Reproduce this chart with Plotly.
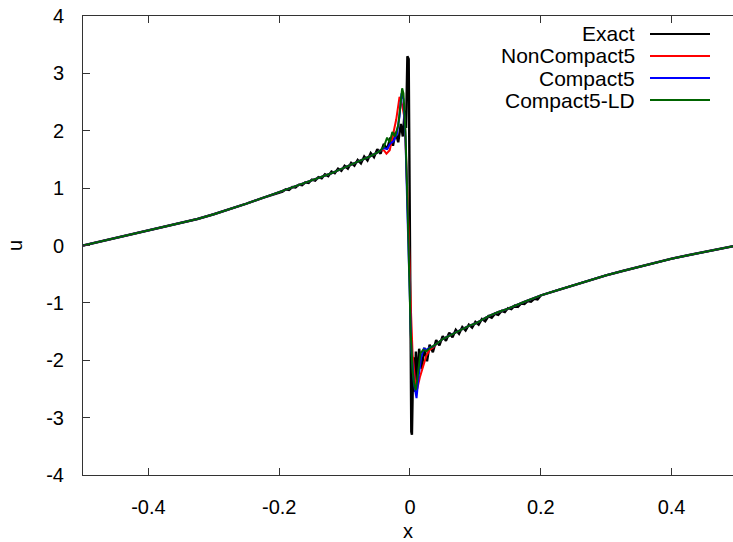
import plotly.graph_objects as go

# ---- data -------------------------------------------------------------
# smooth outer branches shared by every curve
x_outer_left = [-0.500, -0.475, -0.450, -0.425, -0.400, -0.375, -0.350, -0.325,
                -0.300, -0.275, -0.250, -0.225, -0.200]
u_outer_left = [0.000, 0.065, 0.130, 0.195, 0.260, 0.322, 0.387, 0.462,
                0.545, 0.635, 0.730, 0.830, 0.930]
x_outer_right = [0.200, 0.225, 0.250, 0.275, 0.300, 0.325, 0.350, 0.375,
                 0.400, 0.425, 0.450, 0.475, 0.500]
u_outer_right = [-0.870, -0.780, -0.690, -0.605, -0.520, -0.445, -0.370, -0.300,
                 -0.230, -0.170, -0.110, -0.055, 0.000]

# smooth part between outer branch and shock region (numerical schemes)
x_mid_left = [-0.175, -0.15, -0.135, -0.12, -0.11, -0.10, -0.09, -0.08, -0.07,
              -0.06, -0.05]
u_mid_left = [1.03, 1.13, 1.19, 1.26, 1.31, 1.36, 1.40, 1.45, 1.50,
              1.56, 1.62]
x_mid_right = [0.05, 0.06, 0.07, 0.08, 0.09, 0.10, 0.11, 0.12, 0.135, 0.15,
               0.175]
u_mid_right = [-1.63, -1.57, -1.51, -1.45, -1.40, -1.36, -1.29, -1.23, -1.16,
               -1.10, -0.98]

# exact solution (with its small ringing) near the shock
exact_x_left = [-0.195, -0.190, -0.185, -0.180, -0.175, -0.170, -0.165, -0.160,
                -0.155, -0.150, -0.145, -0.140, -0.135, -0.130, -0.125, -0.120,
                -0.115, -0.110, -0.105, -0.100, -0.095, -0.090, -0.085, -0.080,
                -0.075, -0.070, -0.065, -0.060, -0.055, -0.050, -0.045, -0.040,
                -0.035, -0.030, -0.026, -0.022, -0.018, -0.014, -0.011, -0.008,
                -0.006, -0.004]
exact_u_left = [0.94, 0.98, 0.97, 1.02, 1.01, 1.06, 1.05, 1.10,
                1.09, 1.15, 1.13, 1.19, 1.17, 1.24, 1.21, 1.29,
                1.26, 1.34, 1.30, 1.39, 1.34, 1.44, 1.39, 1.49,
                1.43, 1.55, 1.48, 1.61, 1.54, 1.68, 1.60, 1.77,
                1.68, 1.88, 1.74, 1.98, 1.80, 2.12, 1.90, 2.35,
                2.05, 3.30]
exact_x_jump = [-0.002, 0.002]
exact_u_jump = [3.25, -3.25]
exact_x_right = [0.003, 0.005, 0.007, 0.009, 0.011, 0.014, 0.018, 0.022, 0.026,
                 0.030, 0.035, 0.040, 0.045, 0.050, 0.055, 0.060, 0.065, 0.070,
                 0.075, 0.080, 0.085, 0.090, 0.095, 0.100, 0.105, 0.110, 0.115,
                 0.120, 0.125, 0.130, 0.135, 0.140, 0.145, 0.150, 0.155, 0.160,
                 0.165, 0.170, 0.175, 0.180, 0.185, 0.190, 0.195]
exact_u_right = [-3.30, -1.95, -2.55, -1.85, -2.35, -1.80, -2.15, -1.78, -2.02,
                 -1.73, -1.86, -1.65, -1.74, -1.58, -1.66, -1.52, -1.60, -1.47,
                 -1.54, -1.42, -1.48, -1.38, -1.43, -1.33, -1.38, -1.28, -1.32,
                 -1.23, -1.26, -1.19, -1.21, -1.14, -1.16, -1.09, -1.11, -1.05,
                 -1.07, -1.01, -1.02, -0.97, -0.98, -0.93, -0.94]

# NonCompact5 near the shock
nc5_x = [-0.045, -0.040, -0.036, -0.031, -0.026, -0.021, -0.016, -0.012, -0.008,
         -0.005, -0.002, 0.001, 0.004, 0.008, 0.011, 0.015, 0.020, 0.025, 0.030,
         0.035, 0.040]
nc5_u = [1.66, 1.66, 1.60, 1.66, 1.95, 2.20, 2.59, 2.45, 2.20,
         1.30, 0.20, -1.00, -1.90, -2.40, -2.50, -2.30, -2.10, -1.92, -1.82,
         -1.78, -1.72]

# Compact5 near the shock
c5_x = [-0.045, -0.040, -0.035, -0.030, -0.025, -0.020, -0.016, -0.013, -0.010,
        -0.007, -0.004, -0.001, 0.002, 0.006, 0.010, 0.013, 0.017, 0.021, 0.025,
        0.030, 0.035, 0.040]
c5_u = [1.66, 1.70, 1.68, 1.78, 1.82, 1.95, 2.25, 2.65, 2.55,
        1.90, 0.60, -0.60, -1.80, -2.40, -2.66, -2.30, -1.95, -1.80, -1.82,
        -1.78, -1.76, -1.72]

# Compact5-LD near the shock
c5ld_x = [-0.045, -0.040, -0.035, -0.031, -0.027, -0.023, -0.018, -0.015, -0.012,
          -0.010, -0.007, -0.004, -0.002, 0.001, 0.004, 0.007, 0.009, 0.012, 0.016,
          0.020, 0.025, 0.030, 0.035, 0.040]
c5ld_u = [1.66, 1.72, 1.88, 1.80, 1.98, 1.90, 2.10, 2.40, 2.74,
          2.65, 2.00, 0.80, -0.30, -1.50, -2.20, -2.45, -2.52, -2.20, -1.88,
          -1.82, -1.84, -1.79, -1.76, -1.72]

series_names = ["Exact", "NonCompact5", "Compact5", "Compact5-LD"]
series_colors = ["#000000", "#ff0000", "#0000ff", "#006400"]
x_tick_vals = [-0.4, -0.2, 0.0, 0.2, 0.4]
x_tick_text = ["-0.4", "-0.2", "0", "0.2", "0.4"]
y_tick_vals = [-4, -3, -2, -1, 0, 1, 2, 3, 4]
y_tick_text = ["-4", "-3", "-2", "-1", "0", "1", "2", "3", "4"]

# ---- assemble curves -------------------------------------------------
def scheme(xs, us):
    x = x_outer_left + x_mid_left + xs + x_mid_right + x_outer_right
    u = u_outer_left + u_mid_left + us + u_mid_right + u_outer_right
    return x, u

exact_x = x_outer_left + exact_x_left + exact_x_jump + exact_x_right + x_outer_right
exact_u = u_outer_left + exact_u_left + exact_u_jump + exact_u_right + u_outer_right

curves = [
    (exact_x, exact_u, 2.4),
    (*scheme(nc5_x, nc5_u), 2.0),
    (*scheme(c5_x, c5_u), 2.0),
    (*scheme(c5ld_x, c5ld_u), 2.0),
]

fig = go.Figure()
for (cx, cu, w), name, col in zip(curves, series_names, series_colors):
    fig.add_trace(go.Scatter(x=cx, y=cu, mode="lines", name=name,
                             line=dict(color=col, width=w), showlegend=False))

# ---- layout ------------------------------------------------------------
W, H = 733, 542
L, R, T, B = 83, 0, 16, 67
FONT = "Liberation Sans, Arial, sans-serif"
axis_col = "#333333"

fig.update_layout(
    width=W, height=H,
    margin=dict(l=L, r=R, t=T, b=B),
    paper_bgcolor="white", plot_bgcolor="white",
    font=dict(family=FONT, size=20, color="#000000"),
    xaxis=dict(range=[-0.5, 0.4939], tickvals=x_tick_vals, ticktext=x_tick_text,
               ticks="inside", ticklen=7, tickcolor=axis_col, tickwidth=1,
               showline=True, linecolor=axis_col, linewidth=1, mirror="ticks",
               showgrid=False, zeroline=False, ticklabelstandoff=14,
               title=dict(text="x", standoff=6, font=dict(size=20))),
    yaxis=dict(range=[-4, 4], tickvals=y_tick_vals, ticktext=y_tick_text,
               ticks="inside", ticklen=7, tickcolor=axis_col, tickwidth=1,
               showline=True, linecolor=axis_col, linewidth=1, mirror=False,
               showgrid=False, zeroline=False, ticklabelstandoff=14,
               title=dict(text="u", standoff=18, font=dict(size=20))),
)

# key in the upper right corner: label right-aligned, sample line after it
pw, ph = W - L - R, H - T - B
def px_to_paper(px, py):
    return (px - L) / pw, (H - B - py) / ph

key_rows = [34, 56, 78, 100]
for name, col, py in zip(series_names, series_colors, key_rows):
    tx, ty = px_to_paper(637, py)
    fig.add_annotation(x=tx, y=ty, xref="paper", yref="paper", text=name,
                       showarrow=False, xanchor="right", yanchor="middle",
                       font=dict(size=21, color="#000000", family=FONT))
    x0, y0 = px_to_paper(650, py)
    x1, _ = px_to_paper(710, py)
    fig.add_shape(type="line", xref="paper", yref="paper", x0=x0, x1=x1,
                  y0=y0, y1=y0, line=dict(color=col, width=2))

fig.write_html("out.html")
